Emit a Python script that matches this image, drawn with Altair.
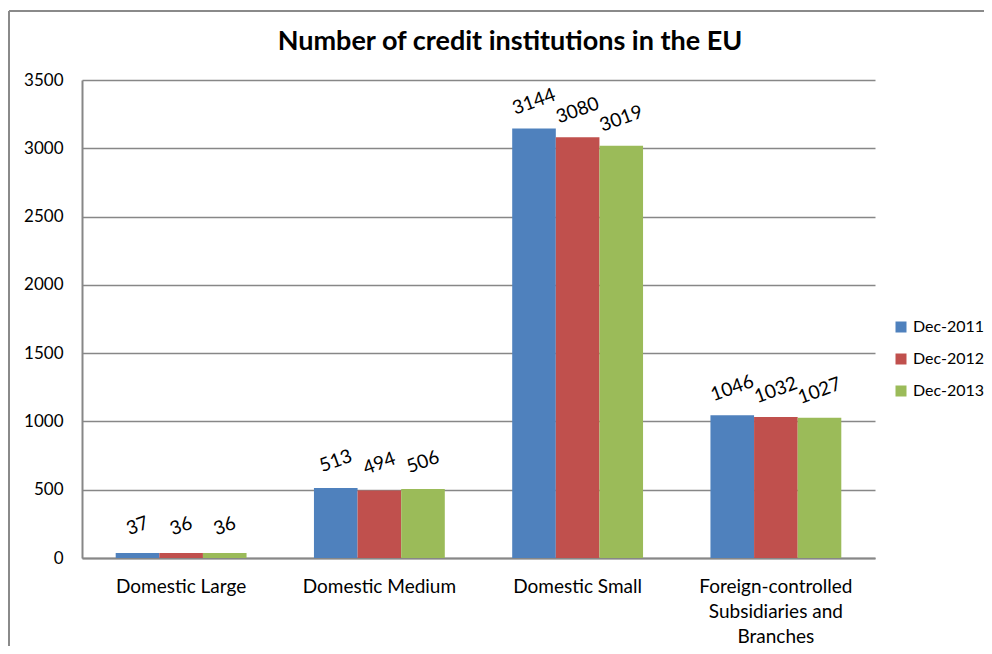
import altair as alt
import pandas as pd

categories = ["Domestic Large", "Domestic Medium", "Domestic Small",
              "Foreign-controlled Subsidiaries and Branches"]
years = ["Dec-2011", "Dec-2012", "Dec-2013"]
values_2011 = [37, 513, 3144, 1046]
values_2012 = [36, 494, 3080, 1032]
values_2013 = [36, 506, 3019, 1027]
colors = ["#4F81BD", "#C0504D", "#9BBB59"]
y_ticks = [0, 500, 1000, 1500, 2000, 2500, 3000, 3500]
title_text = "Number of credit institutions in the EU"

rows = []
for yr, vals in zip(years, [values_2011, values_2012, values_2013]):
    for c, v in zip(categories, vals):
        rows.append({"category": c, "year": yr, "value": v})
df = pd.DataFrame(rows)

FONT = "Lato"
GRAY = "#878787"
W, H = 793, 478

label_expr = ("datum.label == 'Foreign-controlled Subsidiaries and Branches' ? "
              "['Foreign-controlled', 'Subsidiaries and', 'Branches'] : datum.label")

base = alt.Chart(df).encode(
    x=alt.X("category:N", sort=categories,
            scale=alt.Scale(paddingInner=0.34, paddingOuter=0.17),
            axis=alt.Axis(title=None, labelAngle=0, ticks=False, tickSize=0,
                          domainColor=GRAY, domainWidth=2, labelFont=FONT,
                          labelFontSize=19, labelColor="black", labelPadding=19,
                          labelExpr=label_expr, labelLineHeight=25)),
    xOffset=alt.XOffset("year:N", sort=years),
)

bars = base.mark_bar().encode(
    y=alt.Y("value:Q", scale=alt.Scale(domain=[0, 3500], nice=False),
            axis=alt.Axis(title=None, values=y_ticks, format="d", ticks=False,
                          tickSize=0, domainColor=GRAY, domainWidth=2,
                          gridColor=GRAY, gridWidth=1.6, labelFont=FONT,
                          labelFontSize=17, labelColor="black", labelPadding=19)),
    color=alt.Color("year:N", sort=years,
                    scale=alt.Scale(domain=years, range=colors),
                    legend=alt.Legend(title=None, orient="none", legendX=811,
                                      legendY=239, symbolType="square",
                                      symbolSize=121, symbolStrokeWidth=0,
                                      labelFont=FONT, labelFontSize=16,
                                      labelColor="black", rowPadding=16,
                                      labelOffset=4)),
)

text = base.mark_text(angle=340, yOffset=-27, fontSize=19, font=FONT,
                      color="black", baseline="middle", align="center").encode(
    y=alt.Y("value:Q"),
    text=alt.Text("value:Q"),
)

frame_df = pd.DataFrame({"title": [title_text]})
top_border = alt.Chart(frame_df).mark_rule(color="#8a8a8a", strokeWidth=2).encode(
    x=alt.value(-73), x2=alt.value(W + 130), y=alt.value(-69))
left_border = alt.Chart(frame_df).mark_rule(color="#8a8a8a", strokeWidth=2).encode(
    x=alt.value(-73), y=alt.value(-69), y2=alt.value(H + 130))
title = alt.Chart(frame_df).mark_text(font=FONT, fontSize=27, fontWeight="bold",
                                      color="black", align="center",
                                      baseline="middle").encode(
    x=alt.value(428), y=alt.value(-38), text="title:N")

chart = alt.layer(top_border, left_border, title, bars, text).properties(
    width=W, height=H,
    autosize=alt.AutoSizeParams(type="none"),
    padding={"left": 74, "top": 72, "right": 109, "bottom": 88},
).configure_view(stroke=None)

chart.save("out.html", embed_options={"renderer": "svg", "actions": False})
